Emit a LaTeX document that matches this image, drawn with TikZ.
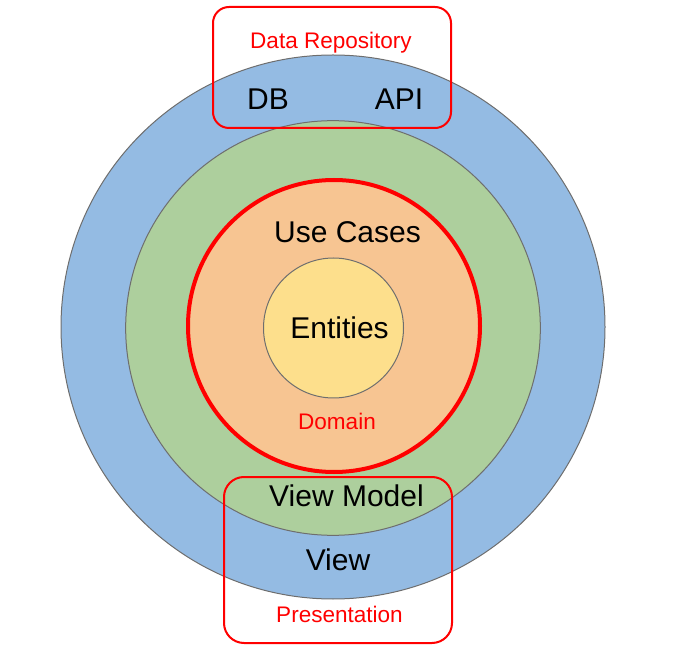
\documentclass[tikz,border=0pt]{standalone}
\usepackage{fontspec}
\setmainfont{Liberation Sans}
\usepackage{xcolor}

\definecolor{ringblue}{RGB}{148,187,227}
\definecolor{ringgreen}{RGB}{173,207,157}
\definecolor{ringorange}{RGB}{247,197,146}
\definecolor{ringyellow}{RGB}{253,223,140}
\definecolor{ringline}{RGB}{110,110,110}
\definecolor{markred}{RGB}{255,0,0}

\tikzset{
  ring/.style={draw=ringline,line width=0.75pt},
  layerbox/.style={draw=markred,line width=1.5pt,rounded corners=12pt},
  bigtxt/.style={inner sep=0pt,font=\fontsize{22.5}{27}\selectfont},
  tagtxt/.style={inner sep=0pt,text=markred,font=\fontsize{16.9}{20}\selectfont}
}

\begin{document}
\begin{tikzpicture}[x=0.75pt,y=-0.75pt]
  \useasboundingbox (0,0) rectangle (686,652);
  \filldraw[ring,fill=ringblue] (333,327) circle (204pt);
  \filldraw[ring,fill=ringgreen] (333,328) circle (155.5pt);
  \filldraw[draw=markred,line width=3pt,fill=ringorange] (334,326) circle (109.5pt);
  \filldraw[ring,fill=ringyellow] (333.5,328) circle (52.5pt);
  \draw[layerbox] (213,7) rectangle (451,128);
  \draw[layerbox,rounded corners=15pt] (224,477) rectangle (452,643);
  \node[tagtxt] (repo) at (331,43) {Data Repository};
  \node[bigtxt] (db) at (268,99) {DB};
  \node[bigtxt] (api) at (399,99) {API};
  \node[bigtxt] (usecases) at (347.5,232) {Use Cases};
  \node[bigtxt] (entities) at (339.5,328) {Entities};
  \node[tagtxt] (domain) at (337,421) {Domain};
  \node[bigtxt] (viewmodel) at (346.5,496) {View Model};
  \node[bigtxt] (view) at (338,560) {View};
  \node[tagtxt] (presentation) at (339.5,614) {Presentation};
\end{tikzpicture}
\end{document}
